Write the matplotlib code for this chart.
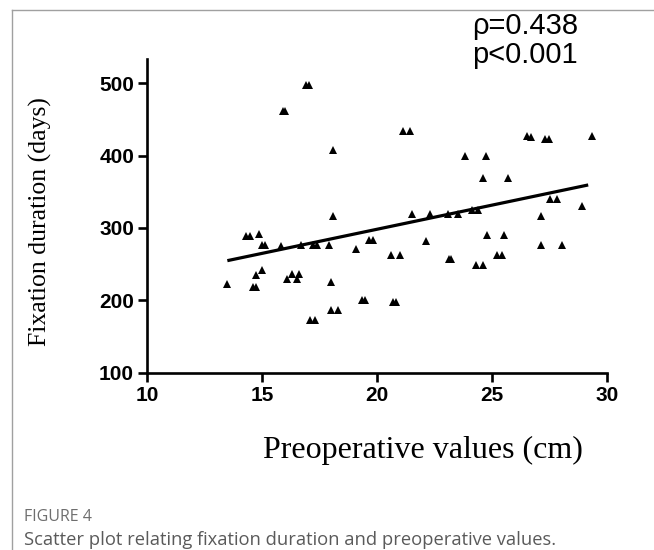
import matplotlib
matplotlib.use("Agg")
import matplotlib.pyplot as plt
from matplotlib.lines import Line2D

# ---- data ----
preop_cm = [13.48, 14.30, 14.47, 14.87, 14.98, 15.10, 15.82, 15.90, 16.00, 16.68,
            17.20, 17.36, 17.88, 16.88, 17.02, 18.09, 18.09, 19.07, 19.62, 19.80,
            14.60, 14.72, 14.71, 14.97, 16.06, 16.28, 16.50, 16.60, 17.99, 17.99,
            18.28, 17.07, 17.29, 19.35, 19.45, 20.67, 20.80, 20.60, 20.99, 21.13,
            21.42, 21.49, 22.10, 22.29, 23.09, 23.52, 23.10, 23.22, 23.81, 24.10,
            24.39, 24.29, 24.61, 24.61, 24.71, 24.78, 25.19, 25.41, 25.51, 25.70,
            26.50, 26.70, 27.12, 27.12, 27.30, 27.45, 27.51, 27.80, 28.02, 28.89,
            29.32]
fixation_days = [223, 289, 289, 291, 277, 277, 275, 461, 461, 277,
                 277, 277, 277, 497, 497, 407, 317, 271, 284, 284,
                 219, 219, 235, 242, 229, 236, 229, 236, 225, 187,
                 187, 173, 173, 200, 200, 198, 198, 263, 263, 434,
                 434, 319, 282, 319, 319, 319, 257, 257, 399, 325,
                 325, 249, 249, 369, 399, 290, 263, 263, 290, 369,
                 427, 425, 317, 276, 423, 423, 340, 340, 276, 330,
                 427]
fit_x = [13.48, 29.17]
fit_y = [254.8, 359.4]
x_ticks = [10, 15, 20, 25, 30]
y_ticks = [100, 200, 300, 400, 500]
stats_text = ["\u03c1=0.438", "p<0.001"]

W, H = 654, 550
fig = plt.figure(figsize=(W / 100, H / 100), dpi=100)
fig.patch.set_facecolor("white")

def fx(px):
    return px / W

def fy(py):
    return 1 - py / H

# frame lines
fig.add_artist(Line2D([fx(12), fx(12)], [fy(10), fy(550)], color="#a0a0a0", lw=1.0))
fig.add_artist(Line2D([fx(12), fx(654)], [fy(10), fy(10)], color="#a0a0a0", lw=1.0))

ax_l, ax_r, ax_b, ax_t = 147.3, 607.3, 372.7, 59.3
ax = fig.add_axes([fx(ax_l), fy(ax_b), (ax_r - ax_l) / W, (ax_b - ax_t) / H])
ax.set_xlim(10, 30)
ax.set_ylim(100, 533)

ax.plot(preop_cm, fixation_days, linestyle="none", marker="^", color="black",
        markersize=6, markeredgewidth=0)
ax.plot(fit_x, fit_y, color="black", lw=2.3, solid_capstyle="butt")

for s in ["top", "right"]:
    ax.spines[s].set_visible(False)
for s in ["left", "bottom"]:
    ax.spines[s].set_linewidth(1.9)
    ax.spines[s].set_color("black")
ax.spines["left"].set_bounds(100, 533)

ax.set_xticks(x_ticks)
ax.set_yticks(y_ticks)
ax.tick_params(direction="out", length=6.5, width=1.9, pad=3, colors="black")
for lab in ax.get_xticklabels() + ax.get_yticklabels():
    lab.set_fontfamily("Liberation Sans")
    lab.set_fontweight("bold")
    lab.set_fontsize(15)

# axis labels
fig.text(fx(40), fy(222), "Fixation duration (days)", rotation=90,
         ha="center", va="center", fontsize=18.5, family="Liberation Serif")
fig.text(fx(423), fy(450), "Preoperative values (cm)",
         ha="center", va="center", fontsize=23, family="Liberation Serif")

# stats
fig.text(fx(472), fy(26), stats_text[0], ha="left", va="center",
         fontsize=21, family="Liberation Sans")
fig.text(fx(472), fy(55), stats_text[1], ha="left", va="center",
         fontsize=21, family="Liberation Sans")

# caption
fig.text(fx(24), fy(517), "FIGURE 4", ha="left", va="center",
         fontsize=11.5, family="Open Sans", color="#6e6e6e")
fig.text(fx(24), fy(540), "Scatter plot relating fixation duration and preoperative values.",
         ha="left", va="center", fontsize=13.2, family="Open Sans", color="#5a5a5a")

fig.savefig("out.png", dpi=100)
